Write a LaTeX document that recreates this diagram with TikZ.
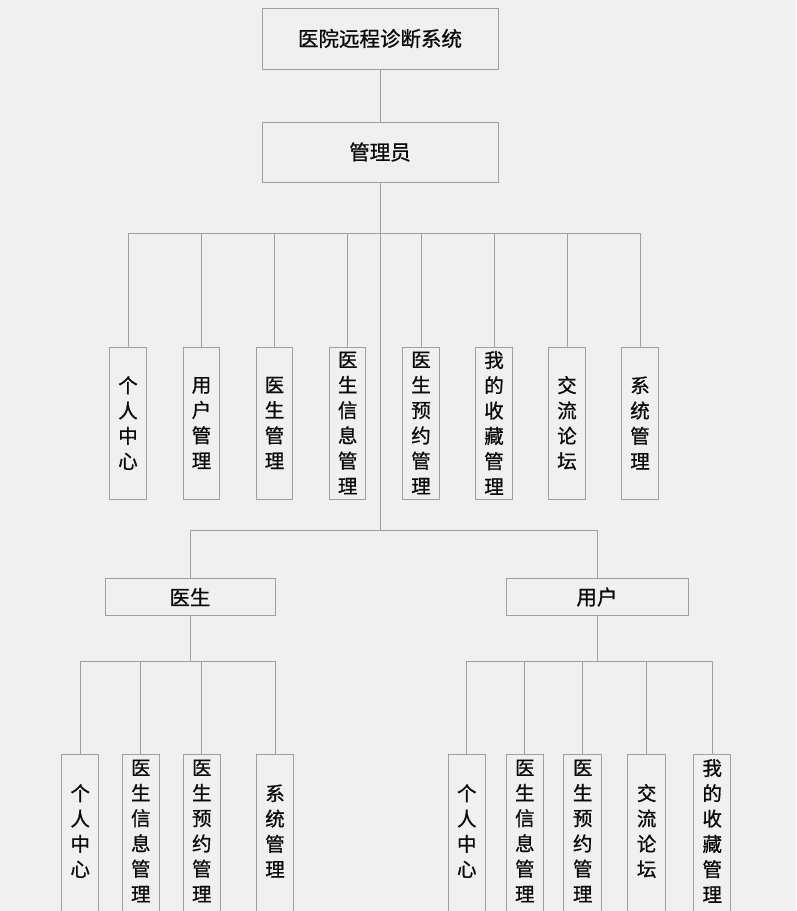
\documentclass[tikz,border=0pt]{standalone}
\usepackage{fontspec}
\newfontfamily\cjk[FakeBold=0.9]{Noto Sans CJK SC}
\definecolor{bgc}{HTML}{F0F0F0}
\definecolor{linec}{HTML}{A0A0A0}
\definecolor{txt}{HTML}{0A0A0A}
\begin{document}
\begin{tikzpicture}[x=1pt,y=-1pt,
  line/.style={draw=linec, line width=1pt},
  hbox/.style={draw=linec, line width=1pt, fill=bgc, inner sep=0pt, text=txt,
    font=\cjk\fontsize{20.5}{24}\selectfont},
  vbox/.style={draw=linec, line width=1pt, fill=bgc, inner sep=0pt, text=txt,
    minimum width=36.5pt, minimum height=152pt, align=center,
    font=\cjk\fontsize{19.5}{25.3}\selectfont},
  lowbox/.style={vbox, draw=none, fill=none},
]
\fill[bgc] (0,0) rectangle (796,911);
\useasboundingbox (0,0) rectangle (796,911);
\clip (0,0) rectangle (796,911);

% bus coordinates
\coordinate (bus1) at (0,233);
\coordinate (bus2) at (0,530);
\coordinate (bus3) at (0,661);

% top
\node[hbox, minimum width=236pt, minimum height=61pt] (sys) at (380,38.5) {医院远程诊断系统};
\node[hbox, minimum width=236pt, minimum height=60pt] (adm) at (380,152) {管理员};

% admin children
\node[vbox] (a1) at (128,423)   {个\\人\\中\\心};
\node[vbox] (a2) at (201.5,423) {用\\户\\管\\理};
\node[vbox] (a3) at (274.5,423) {医\\生\\管\\理};
\node[vbox] (a4) at (347.7,423) {医\\生\\信\\息\\管\\理};
\node[vbox] (a5) at (421,423)   {医\\生\\预\\约\\管\\理};
\node[vbox] (a6) at (494,423)   {我\\的\\收\\藏\\管\\理};
\node[vbox] (a7) at (567,423)   {交\\流\\论\\坛};
\node[vbox] (a8) at (640,423)   {系\\统\\管\\理};

% roles
\node[hbox, minimum width=170pt, minimum height=36.5pt] (doc) at (190,597) {医生};
\node[hbox, minimum width=182pt, minimum height=36.5pt] (usr) at (597,597) {用户};

% doctor children
\node[lowbox] (d1) at (80.2,831)  {个\\人\\中\\心};
\node[lowbox] (d2) at (140.8,831) {医\\生\\信\\息\\管\\理};
\node[lowbox] (d3) at (201.8,831) {医\\生\\预\\约\\管\\理};
\node[lowbox] (d4) at (275,831)   {系\\统\\管\\理};

% user children
\node[lowbox] (u1) at (466.8,831) {个\\人\\中\\心};
\node[lowbox] (u2) at (524.8,831) {医\\生\\信\\息\\管\\理};
\node[lowbox] (u3) at (582.7,831) {医\\生\\预\\约\\管\\理};
\node[lowbox] (u4) at (646.7,831) {交\\流\\论\\坛};
\node[lowbox] (u5) at (712.2,831) {我\\的\\收\\藏\\管\\理};

% lower boxes run past the bottom edge
\foreach \n in {d1,d2,d3,d4,u1,u2,u3,u4,u5}
  \draw[line] (\n.north west) rectangle ([yshift=-30pt]\n.south east);

% connectors
\draw[line] (sys.south) -- (adm.north);
\foreach \n in {a1,a2,a3,a4,a5,a6,a7,a8}
  \draw[line] (adm.south) -- (adm.south |- bus1) -| (\n.north);
\draw[line] (adm.south) -- (adm.south |- bus2) -| (doc.north);
\draw[line] (adm.south |- bus2) -| (usr.north);
\foreach \n in {d1,d2,d3,d4}
  \draw[line] (doc.south) -- (doc.south |- bus3) -| (\n.north);
\foreach \n in {u1,u2,u3,u4,u5}
  \draw[line] (usr.south) -- (usr.south |- bus3) -| (\n.north);
\end{tikzpicture}
\end{document}
